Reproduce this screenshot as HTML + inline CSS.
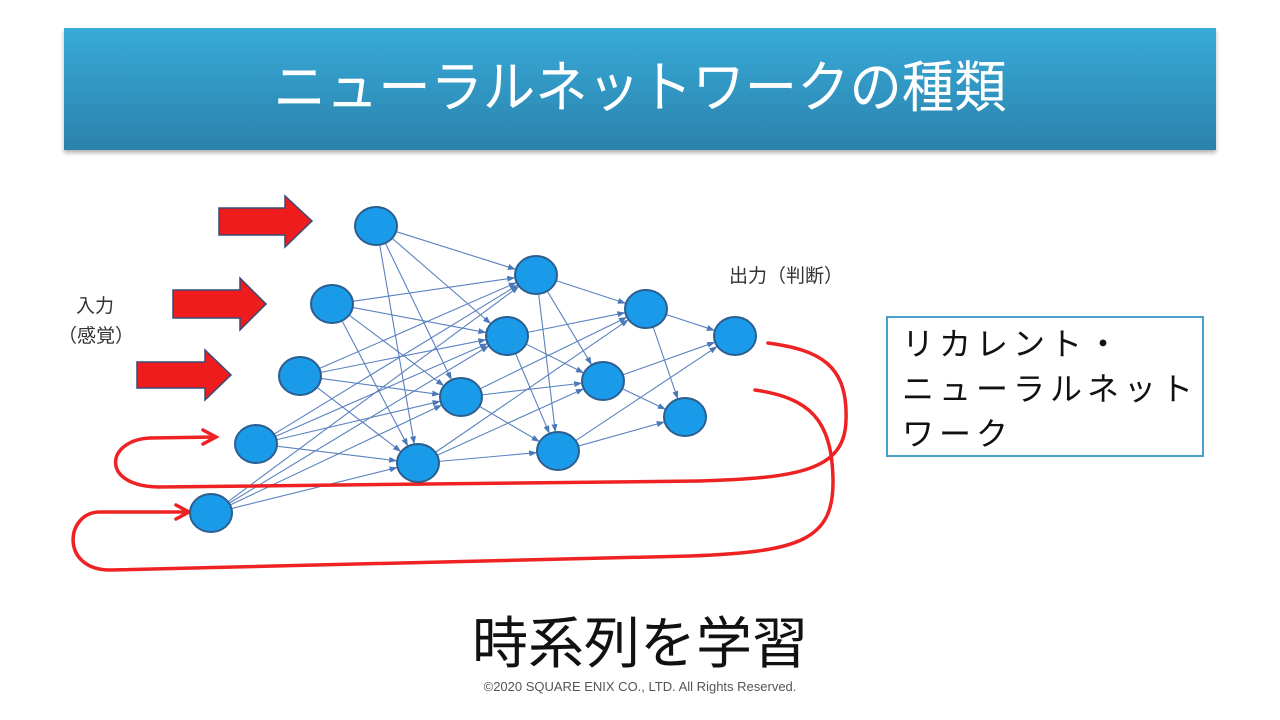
<!DOCTYPE html>
<html><head><meta charset="utf-8"><style>
body{margin:0;width:1280px;height:720px;background:#fff;overflow:hidden;position:relative;font-family:"Liberation Sans","Noto Sans CJK JP",sans-serif}
.title{position:absolute;left:64px;top:28px;width:1152px;height:122px;background:linear-gradient(#38aad9,#2b82ab);box-shadow:0 3px 4px rgba(0,0,0,.3)}
.title span{position:absolute;left:0;right:0;top:28px;text-align:center;color:#fff;font-size:56px;line-height:64px;transform:scaleX(0.935)}
.t{position:absolute;color:#333;font-size:19px;line-height:24px}
.box{position:absolute;left:886px;top:316px;width:318px;height:141px;border:2px solid #4aa0c8;font-size:32px;line-height:45px;padding:4px 0 0 14px;box-sizing:border-box;color:#111;letter-spacing:5px}
</style></head><body>
<div class="title"><span>ニューラルネットワークの種類</span></div>
<svg width="1280" height="720" style="position:absolute;left:0;top:0">
<defs><marker id="m" markerWidth="8" markerHeight="8" refX="7" refY="4" orient="auto" markerUnits="userSpaceOnUse"><path d="M0,1 L8,4 L0,7z" fill="#4a78b8"/></marker></defs>
<g stroke="#5b82c0" stroke-width="1.1" marker-end="url(#m)" id="e"></g>
<g fill="#ee1c1c" stroke="#3a4a7a" stroke-width="1.5">
<path d="M219,208 H285 V196 L312,221 L285,247 V235 H219z"/>
<path d="M173,290 H240 V278 L266,304 L240,330 V318 H173z"/>
<path d="M137,362 H205 V350 L231,375 L205,400 V388 H137z"/>
</g>
<g fill="none" stroke="#ee2222" stroke-width="3.5" stroke-linecap="round">
<path d="M768,343 C820,350 848,365 846,420 C845,470 800,478 700,481 L160,487 C100,487 105,440 150,438 L216,437"/>
<path d="M203,430 L216,437 L203,444"/>
<path d="M755,390 C810,398 832,420 833,480 C834,540 800,552 690,556 L110,570 C60,570 65,512 100,512 L188,512"/>
<path d="M176,505 L189,512 L176,519"/>
</g>
<g id="n" fill="#1a9bea" stroke="#2b5d8e" stroke-width="2"></g>
</svg>
<script>
var L=[[[376,226],[332,304],[300,376],[256,444],[211,513]],[[536,275],[507,336],[461,397],[418,463]],[[646,309],[603,381],[558,451]],[[735,336],[685,417]]];
var ns="http://www.w3.org/2000/svg",e=document.getElementById('e'),n=document.getElementById('n');
for(var i=0;i<3;i++)for(var a of L[i])for(var b of L[i+1]){var dx=b[0]-a[0],dy=b[1]-a[1],d=Math.hypot(dx,dy);var l=document.createElementNS(ns,'line');l.setAttribute('x1',a[0]+dx/d*21);l.setAttribute('y1',a[1]+dy/d*19);l.setAttribute('x2',b[0]-dx/d*22);l.setAttribute('y2',b[1]-dy/d*20);e.appendChild(l);}
for(var g of L)for(var p of g){var c=document.createElementNS(ns,'ellipse');c.setAttribute('cx',p[0]);c.setAttribute('cy',p[1]);c.setAttribute('rx',21);c.setAttribute('ry',19);n.appendChild(c);}
</script>
<div class="t" style="left:76px;top:295px">入力</div>
<div class="t" style="left:58px;top:325px">（感覚）</div>
<div class="t" style="left:729px;top:265px">出力（判断）</div>
<div class="box">リカレント・<br>ニューラルネット<br>ワーク</div>
<div style="position:absolute;left:0;right:0;top:610px;text-align:center;font-size:56px;line-height:68px;color:#111">時系列を学習</div>
<div style="position:absolute;left:0;right:0;top:679px;text-align:center;font-size:13px;color:#555">©2020 SQUARE ENIX CO., LTD. All Rights Reserved.</div>
</body></html>
